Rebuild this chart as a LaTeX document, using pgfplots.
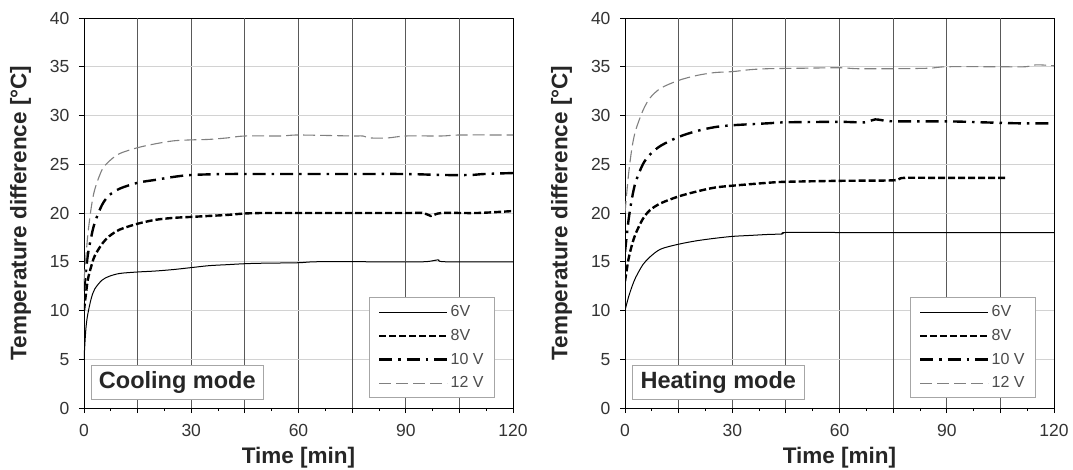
\documentclass[border=0pt]{standalone}
\usepackage{pgfplots}
\pgfplotsset{compat=1.18}
\usepackage{fontspec}
\setmainfont{Liberation Sans}

\pgfplotsset{
  tdplot/.style={
    scale only axis,
    width=429pt, height=390pt,
    xmin=0, xmax=120, ymin=0, ymax=40,
    xtick={0,30,...,120},
    extra x ticks={15,45,75,105},
    extra x tick labels={},
    extra x tick style={grid=major, major grid style={gray!70!black, line width=0.8pt}},
    minor x tick num=3,
    ytick={0,5,...,40},
    xmajorgrids=true, ymajorgrids=true,
    major x grid style={gray!70!black, line width=0.8pt},
    major y grid style={gray!35, line width=0.8pt},
    tick align=outside,
    tick pos=left,
    major tick length=5pt, minor tick length=3pt,
    tick style={black, line width=0.8pt},
    axis line style={line width=0.9pt},
    /pgf/number format/assume math mode=true,
    tick label style={font=\fontsize{17.5}{20}\selectfont, text=black!80},
    xticklabel style={yshift=-8pt},
    yticklabel style={xshift=-6pt},
    label style={font=\bfseries\fontsize{22.5}{24}\selectfont, text=black!85},
    xlabel={Time [min]},
    ylabel={Temperature difference [°C]},
    xlabel style={yshift=7pt},
    ylabel style={yshift=12pt},
    legend style={draw=gray!70, line width=0.8pt, fill=white,
      font=\fontsize{16}{18}\selectfont, text=black!70,
      at={(rel axis cs:0.958,0.026)}, anchor=south east,
      row sep=7pt, inner xsep=9pt, inner ysep=6pt},
    legend cell align=left,
    legend image code/.code={\draw[#1] (0pt,0pt) -- (60pt,0pt); \path (0pt,0pt) -- (68pt,0pt);},
  },
  v6/.style={black, line width=1pt},
  v8/.style={black, line width=2.4pt, dash pattern=on 7pt off 3pt},
  v10/.style={black, line width=2.4pt, dash pattern=on 13pt off 6pt on 2.5pt off 6pt},
  v12/.style={gray, line width=1.1pt, dash pattern=on 12pt off 5pt},
}

\begin{document}
\begin{tikzpicture}
\useasboundingbox (-84pt,-61pt) rectangle (989pt,408pt);
\begin{axis}[tdplot]
\addplot[v6, smooth] coordinates {
(0,5) (0.5,8) (1,9.5) (2,11.2) (3,12.2) (5,13.1) (7,13.5) (10,13.8) (15,13.95) (20,14.05) (25,14.2) (30,14.4) (35,14.6) (40,14.7) (45,14.8) (50,14.85) (60,14.9) (65,15) (80,15) (95,15) (99,15.2) (101,15) (120,15)};
\addlegendentry{6V}
\addplot[v8, smooth] coordinates {
(0,10) (1,13) (2,14.5) (3,15.6) (5,16.8) (7,17.6) (10,18.3) (15,18.9) (20,19.3) (25,19.5) (30,19.6) (35,19.7) (40,19.8) (45,19.95) (50,20) (60,20) (75,20) (90,20) (95,20) (97,19.7) (100,20) (110,20) (120,20.2)};
\addlegendentry{8V}
\addplot[v10, smooth] coordinates {
(0,12) (1,15.5) (2,17.5) (3,19) (5,20.8) (7,21.8) (10,22.5) (15,23.1) (20,23.4) (25,23.7) (30,23.9) (40,24) (50,24) (60,24) (75,24) (90,24) (100,23.9) (108,23.9) (112,24) (120,24.1)};
\addlegendentry{10 V}
\addplot[v12, smooth] coordinates {
(0,13) (1,17.5) (2,20.5) (3,22.4) (5,24.4) (7,25.3) (10,26.1) (15,26.7) (20,27.1) (25,27.4) (30,27.5) (35,27.55) (40,27.7) (45,27.9) (55,27.9) (60,28) (75,27.9) (78,27.9) (80,27.7) (85,27.7) (90,27.9) (100,27.9) (105,28) (120,28)};
\addlegendentry{12 V}
\node[draw=gray!70, line width=0.8pt, fill=white, anchor=south west,
  minimum width=172pt, minimum height=34pt, inner sep=2pt,
  font=\bfseries\fontsize{23.5}{25}\selectfont, text=black!85]
  at (rel axis cs:0.016,0.022) {Cooling mode};
\end{axis}

\begin{axis}[tdplot, at={(541pt,0pt)}]
\addplot[v6, smooth] coordinates {
(0,10) (1,11.4) (2,12.5) (3,13.4) (5,14.7) (7,15.5) (10,16.3) (15,16.8) (20,17.15) (25,17.4) (30,17.6) (35,17.7) (40,17.8) (44,17.85) (45,18) (60,18) (90,18) (120,18)};
\addlegendentry{6V}
\addplot[v8, smooth] coordinates {
(0,13) (1,15.3) (2,16.8) (3,17.9) (5,19.4) (7,20.3) (10,21) (15,21.7) (20,22.2) (25,22.6) (30,22.8) (40,23.1) (45,23.2) (60,23.3) (75,23.35) (78,23.6) (90,23.6) (107,23.6)};
\addlegendentry{8V}
\addplot[v10, smooth] coordinates {
(0,16) (1,19.3) (2,21.6) (3,23.2) (5,25) (7,26) (10,26.9) (15,27.8) (20,28.4) (25,28.8) (30,29) (40,29.2) (45,29.3) (60,29.35) (67,29.3) (70,29.6) (75,29.4) (90,29.4) (100,29.3) (110,29.2) (120,29.2)};
\addlegendentry{10 V}
\addplot[v12, smooth] coordinates {
(0,20) (1,24) (2,26.8) (3,28.5) (5,30.5) (7,31.8) (10,32.8) (15,33.6) (20,34.1) (25,34.4) (30,34.5) (35,34.7) (40,34.8) (50,34.85) (60,34.9) (65,34.8) (75,34.8) (85,34.85) (90,35) (105,35) (112,35) (115,35.2) (120,35.1)};
\addlegendentry{12 V}
\node[draw=gray!70, line width=0.8pt, fill=white, anchor=south west,
  minimum width=172pt, minimum height=34pt, inner sep=2pt,
  font=\bfseries\fontsize{23.5}{25}\selectfont, text=black!85]
  at (rel axis cs:0.016,0.022) {Heating mode};
\end{axis}
\end{tikzpicture}
\end{document}
